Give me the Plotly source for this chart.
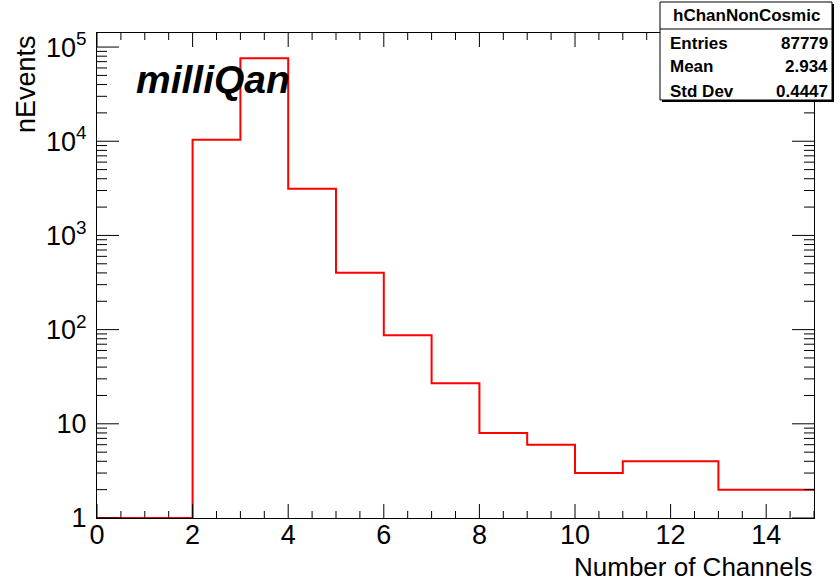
import numpy as np
import plotly.graph_objects as go

# ---- data ----
bin_edges = list(range(0, 16))
counts = [0, 0, 10400, 76000, 3130, 402, 87, 27, 8, 6, 3, 4, 4, 2, 2]
hist_name = "hChanNonCosmic"
stat_labels = ["Entries", "Mean", "Std Dev"]
stat_values = ["87779", "2.934", "0.4447"]
x_tickvals = [0, 2, 4, 6, 8, 10, 12, 14]
y_tickvals = [1, 10, 100, 1000, 10000, 100000]
y_ticktext = ["1", "10", "10<sup>2</sup>", "10<sup>3</sup>", "10<sup>4</sup>", "10<sup>5</sup>"]

W, H = 840, 584
L, R, T, B = 97, 814, 33, 518
FONT = "Liberation Sans, Arial, Helvetica, sans-serif"
XMIN, XMAX = 0, 15
ymin = 1.0
ymax = 1.41e5

def px(x):
    return (x - L) / (R - L)

def py(y):
    return (B - y) / (B - T)

def dx2paper(v):
    return (v - XMIN) / (XMAX - XMIN)

def dy2paper(v):
    return (np.log10(v) - np.log10(ymin)) / (np.log10(ymax) - np.log10(ymin))

xs = bin_edges
ys = list(np.clip(counts, ymin, None)) + [max(counts[-1], ymin)]

fig = go.Figure()
fig.add_trace(go.Scatter(
    x=xs, y=ys, mode="lines", line=dict(color="#ff0000", width=2, shape="hv"),
    hoverinfo="skip", showlegend=False))

axis_common = dict(showgrid=False, zeroline=False, showline=True, linecolor="black",
                   linewidth=1, mirror=True, ticks="",
                   tickfont=dict(family=FONT, size=27, color="black"))

fig.update_xaxes(range=[XMIN, XMAX], tickmode="array", tickvals=x_tickvals, ticklabelstandoff=-7, **axis_common)
fig.update_yaxes(type="log", range=[np.log10(ymin), np.log10(ymax)], tickmode="array",
                 tickvals=y_tickvals, ticktext=y_ticktext, ticklabelstandoff=4, **axis_common)

shapes = []
tick_line = dict(color="black", width=1)
hpx = 1.0 / (R - L)   # paper units per pixel horizontally
vpx = 1.0 / (B - T)   # paper units per pixel vertically

# x ticks (bottom and top)
for i in range(int((XMAX - XMIN) / 0.5) + 1):
    xv = XMIN + 0.5 * i
    major = (xv % 2 == 0)
    ln = 14 if major else 7
    xp = float(dx2paper(xv))
    shapes.append(dict(type="line", xref="paper", yref="paper", x0=xp, x1=xp, y0=0.0, y1=float(ln * vpx), line=dict(tick_line)))
    shapes.append(dict(type="line", xref="paper", yref="paper", x0=xp, x1=xp, y0=1.0, y1=float(1 - ln * vpx), line=dict(tick_line)))

# y ticks (left and right)
for k in range(0, 6):
    for m in range(1, 10):
        v = m * 10 ** k
        if v > ymax:
            continue
        ln = 22 if m == 1 else 10
        yp = float(dy2paper(v))
        shapes.append(dict(type="line", xref="paper", yref="paper", x0=0.0, x1=float(ln * hpx), y0=yp, y1=yp, line=dict(tick_line)))
        shapes.append(dict(type="line", xref="paper", yref="paper", x0=1.0, x1=float(1 - ln * hpx), y0=yp, y1=yp, line=dict(tick_line)))

ann = []
ann.append(dict(text="Number of Channels", x=1.0, y=py(567), xref="paper", yref="paper",
                xanchor="right", yanchor="middle", showarrow=False,
                font=dict(family=FONT, size=26, color="black")))
ann.append(dict(text="nEvents", x=px(26), y=1.0, xref="paper", yref="paper",
                xanchor="center", yanchor="top", textangle=-90, showarrow=False,
                font=dict(family=FONT, size=27, color="black")))
ann.append(dict(text="<b><i>milliQan</i></b>", x=px(134), y=py(79), xref="paper", yref="paper",
                xanchor="left", yanchor="middle", showarrow=False,
                font=dict(family=FONT, size=39, color="black")))

# stats box
bx0, bx1, by0, by1, bsep = 660, 832, 2, 100, 29
shapes += [
    dict(type="rect", xref="paper", yref="paper", x0=px(bx0), x1=px(bx1), y0=py(by1), y1=py(by0),
         line=dict(color="black", width=1), fillcolor="white", layer="above"),
    dict(type="line", xref="paper", yref="paper", x0=px(bx0), x1=px(bx1), y0=py(bsep), y1=py(bsep),
         line=dict(color="black", width=1)),
    dict(type="line", xref="paper", yref="paper", x0=px(bx1 + 1), x1=px(bx1 + 1), y0=py(by1 + 2), y1=py(by0 + 2),
         line=dict(color="black", width=2)),
    dict(type="line", xref="paper", yref="paper", x0=px(bx0 + 2), x1=px(bx1 + 2), y0=py(by1 + 1), y1=py(by1 + 1),
         line=dict(color="black", width=2)),
]
ann.append(dict(text="<b>%s</b>" % hist_name, x=px((bx0 + bx1) / 2), y=py(16), xref="paper", yref="paper",
                xanchor="center", yanchor="middle", showarrow=False,
                font=dict(family=FONT, size=17, color="black")))
row_y = [43, 67, 91]
for lab, val, ry in zip(stat_labels, stat_values, row_y):
    ann.append(dict(text="<b>%s</b>" % lab, x=px(668), y=py(ry), xref="paper", yref="paper",
                    xanchor="left", yanchor="middle", showarrow=False,
                    font=dict(family=FONT, size=17, color="black")))
    ann.append(dict(text="<b>%s</b>" % val, x=px(830), y=py(ry), xref="paper", yref="paper",
                    xanchor="right", yanchor="middle", showarrow=False,
                    font=dict(family=FONT, size=17, color="black")))

fig.update_layout(width=W, height=H, margin=dict(l=L, r=W - R, t=T, b=H - B),
                  plot_bgcolor="white", paper_bgcolor="white",
                  annotations=ann, shapes=shapes, showlegend=False)

fig.write_html("out.html")
